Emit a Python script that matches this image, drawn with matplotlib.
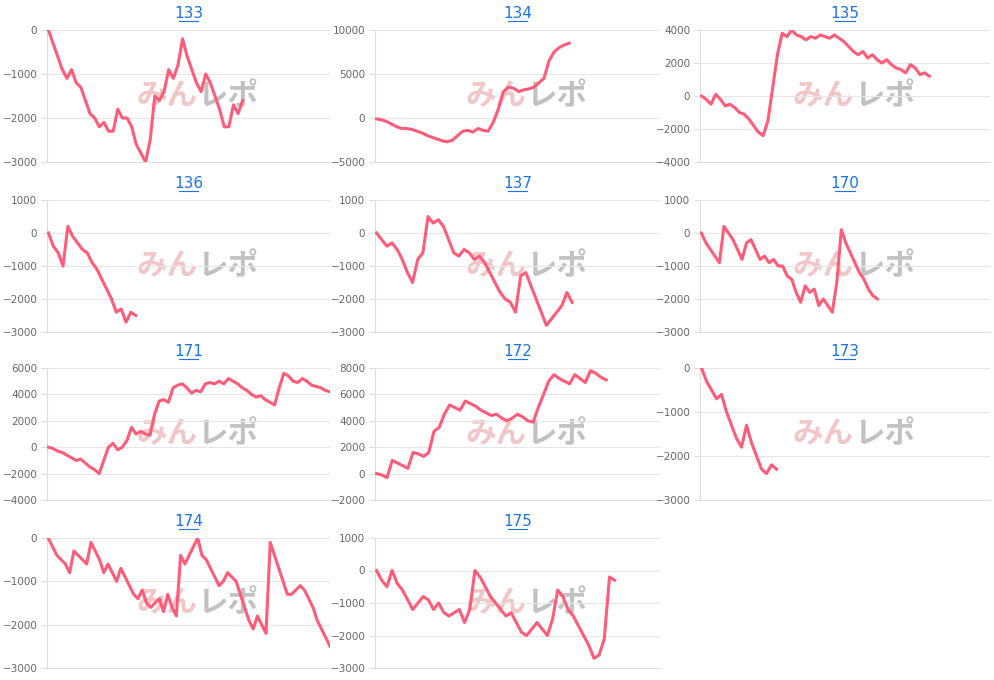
import matplotlib.pyplot as plt
from matplotlib.lines import Line2D

plt.rcParams['font.family'] = ['DejaVu Sans']

titles = ['133', '134', '135', '136', '137', '170', '171', '172', '173', '174', '175']

s133 = [0, -300, -600, -900, -1100, -900, -1200, -1300, -1600, -1900, -2000, -2200, -2100, -2300, -2300,
        -1800, -2000, -2000, -2200, -2600, -2800, -3000, -2500, -1500, -1600, -1400, -900, -1100, -800, -200,
        -600, -900, -1200, -1400, -1000, -1200, -1500, -1800, -2200, -2200, -1700, -1900, -1600]
s134 = [-100, -200, -400, -700, -1000, -1200, -1200, -1300, -1500, -1700, -2000, -2200, -2400, -2600, -2700,
        -2500, -2000, -1500, -1400, -1600, -1200, -1400, -1500, -500, 1000, 3000, 3500, 3400, 3000, 3200,
        3300, 3500, 4000, 4500, 6500, 7500, 8000, 8300, 8500]
s135 = [0, -200, -500, 100, -200, -600, -500, -700, -1000, -1100, -1400, -1800, -2200, -2400, -1500, 500,
        2500, 3800, 3600, 4000, 3700, 3600, 3400, 3600, 3500, 3700, 3600, 3500, 3700, 3500, 3300, 3000, 2700,
        2500, 2700, 2300, 2500, 2200, 2000, 2200, 1900, 1700, 1600, 1400, 1900, 1700, 1300, 1400, 1200]
s136 = [0, -400, -600, -1000, 200, -100, -300, -500, -600, -900, -1100, -1400, -1700, -2000, -2400, -2300,
        -2700, -2400, -2500]
s137 = [0, -200, -400, -300, -500, -800, -1200, -1500, -800, -600, 500, 300, 400, 200, -200, -600, -700, -500,
        -600, -800, -700, -900, -1200, -1500, -1800, -2000, -2100, -2400, -1300, -1200, -1600, -2000, -2400,
        -2800, -2600, -2400, -2200, -1800, -2100]
s170 = [0, -300, -500, -700, -900, 200, 0, -200, -500, -800, -300, -200, -500, -800, -700, -900, -800, -1000,
        -1000, -1300, -1400, -1800, -2100, -1600, -1800, -1700, -2200, -2000, -2200, -2400, -1500, 100, -300,
        -600, -900, -1200, -1400, -1700, -1900, -2000]
s171 = [0, -100, -300, -400, -600, -800, -1000, -900, -1200, -1500, -1700, -2000, -1000, 0, 300, -200, 0, 500,
        1500, 1000, 1200, 1000, 900, 2500, 3500, 3600, 3400, 4500, 4700, 4800, 4500, 4100, 4300, 4200, 4800,
        4900, 4800, 5000, 4800, 5200, 5000, 4800, 4500, 4300, 4000, 3800, 3900, 3600, 3400, 3200, 4500, 5600,
        5400, 5000, 4900, 5200, 5000, 4700, 4600, 4500, 4300, 4200]
s172 = [0, -100, -300, 1000, 800, 600, 400, 1600, 1500, 1300, 1600, 3200, 3500, 4500, 5200, 5000, 4800, 5500,
        5300, 5100, 4800, 4600, 4400, 4500, 4200, 4000, 4200, 4500, 4300, 4000, 3900, 5000, 6000, 7000, 7500,
        7200, 7000, 6800, 7500, 7200, 6900, 7800, 7600, 7300, 7100]
s173 = [0, -300, -500, -700, -600, -1000, -1300, -1600, -1800, -1300, -1700, -2000, -2300, -2400, -2200, -2300]
s174 = [0, -200, -400, -500, -600, -800, -300, -400, -500, -600, -100, -300, -500, -800, -600, -800, -1000,
        -700, -900, -1100, -1300, -1400, -1200, -1500, -1600, -1500, -1400, -1700, -1300, -1600, -1800, -400,
        -600, -400, -200, 0, -400, -500, -700, -900, -1100, -1000, -800, -900, -1000, -1300, -1600, -1900, -2100,
        -1800, -2000, -2200, -100, -400, -700, -1000, -1300, -1300, -1200, -1100, -1200, -1400, -1600, -1900,
        -2100, -2300, -2500]
s175 = [0, -300, -500, 0, -400, -600, -900, -1200, -1000, -800, -900, -1200, -1000, -1300, -1400, -1300, -1200,
        -1600, -1200, 0, -200, -500, -800, -1000, -1200, -1400, -1300, -1600, -1900, -2000, -1800, -1600, -1800,
        -2000, -1500, -600, -800, -1200, -1400, -1700, -2000, -2300, -2700, -2600, -2100, -200, -300]
series = [s133, s134, s135, s136, s137, s170, s171, s172, s173, s174, s175]

ylims = [(-3000, 0), (-5000, 10000), (-4000, 4000), (-3000, 1000), (-3000, 1000), (-3000, 1000),
         (-4000, 6000), (-2000, 8000), (-3000, 0), (-3000, 0), (-3000, 1000)]
ysteps = [1000, 5000, 2000, 1000, 1000, 1000, 2000, 2000, 1000, 1000, 1000]
xfrac = [0.69, 0.68, 0.79, 0.31, 0.69, 0.61, 1.0, 0.81, 0.26, 1.0, 0.84]

W, H = 995, 680
fig = plt.figure(figsize=(W / 100, H / 100), dpi=100)
cols = [(47, 330), (375, 660), (700, 990)]
rows = [(30, 162), (200, 332), (368, 500), (538, 668)]
red = '#ff5c7a'

for i, (t, s) in enumerate(zip(titles, series)):
    r, c = divmod(i, 3)
    x0, x1 = cols[c]
    y0, y1 = rows[r]
    ax = fig.add_axes([x0 / W, 1 - y1 / H, (x1 - x0) / W, (y1 - y0) / H])
    n = len(s)
    total = (n - 1) / xfrac[i]
    ax.plot(range(n), s, color=red, lw=2.2, zorder=3)
    ax.set_xlim(-0.3, total)
    lo, hi = ylims[i]
    ax.set_ylim(lo, hi)
    ax.set_yticks(range(lo, hi + 1, ysteps[i]))
    ax.set_xticks([])
    ax.grid(axis='y', color='#e6e6e6', lw=0.8)
    for sp in ['top', 'right']:
        ax.spines[sp].set_visible(False)
    ax.spines['left'].set_color('#dddddd')
    ax.spines['bottom'].set_color('#dddddd')
    ax.tick_params(axis='y', length=4, pad=3, color='#dddddd', labelsize=7.5, labelcolor='#666666')
    ax.text(0.5, 1.07, t, transform=ax.transAxes, ha='center', va='bottom',
            fontsize=11, color='#1a73e8')
    ax.add_line(Line2D([0.465, 0.535], [1.07, 1.07], transform=ax.transAxes,
                       color='#1a73e8', lw=0.8, clip_on=False))
    ax.text(0.53, 0.5, 'みん', transform=ax.transAxes, ha='right', va='center',
            fontsize=22, fontweight='bold', style='italic', color='#e8a0a0', alpha=0.6,
            family=['Noto Sans CJK JP', 'DejaVu Sans'], zorder=1)
    ax.text(0.53, 0.5, 'レポ', transform=ax.transAxes, ha='left', va='center',
            fontsize=22, fontweight='bold', style='italic', color='#999999', alpha=0.6,
            family=['Noto Sans CJK JP', 'DejaVu Sans'], zorder=1)

fig.savefig('out.png', dpi=100)
